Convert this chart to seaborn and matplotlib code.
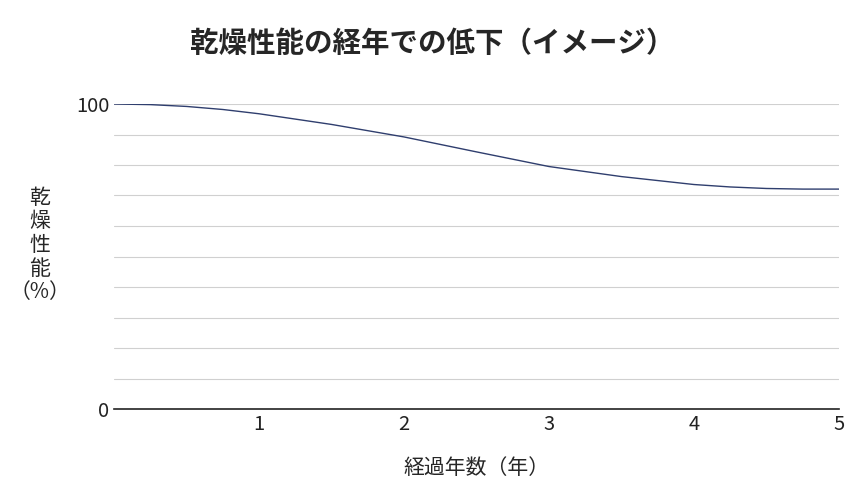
import matplotlib
matplotlib.use("Agg")
import matplotlib.pyplot as plt
import seaborn as sns
import pandas as pd

# values
years = [0, 0.25, 0.5, 0.75, 1, 1.5, 2, 2.5, 3, 3.5, 4, 4.25, 4.5, 4.75, 5]
performance = [100, 99.8, 99.2, 98.2, 96.8, 93.3, 89.2, 84.3, 79.5, 76.2, 73.6, 72.8, 72.3, 72.1, 72.1]
x_ticks = [1, 2, 3, 4, 5]
y_ticks = [0, 100]

sns.set_theme(style="white")
plt.rcParams["font.family"] = ["Noto Sans CJK JP", "DejaVu Sans"]

df = pd.DataFrame({"year": years, "perf": performance})

fig = plt.figure(figsize=(8.64, 5), dpi=100)
ax = fig.add_axes([0.132, 0.182, 0.839, 0.61])

for g in range(10, 101, 10):
    ax.axhline(g, color="#d0d0d0", lw=0.8, zorder=0)

sns.lineplot(data=df, x="year", y="perf", color="#2f3e6e", lw=1.0, ax=ax)

ax.set_xlim(0, 5)
ax.set_ylim(0, 100)
ax.set_xticks(x_ticks)
ax.set_yticks(y_ticks)
ax.tick_params(labelsize=14.5, length=0, colors="#222222")
for s in ["top", "right", "left"]:
    ax.spines[s].set_visible(False)
ax.spines["bottom"].set_color("#222222")
ax.spines["bottom"].set_linewidth(1.2)

ax.set_xlabel("経過年数（年）", fontsize=15, labelpad=16)
ax.set_ylabel("")
fig.text(0.046, 0.51, "乾\n燥\n性\n能\n（%）", fontsize=15, ha="center", va="center",
         linespacing=1.1)
fig.suptitle("乾燥性能の経年での低下（イメージ）", fontsize=20.5, fontweight="bold", y=0.94)

fig.savefig("out.png", dpi=100)
